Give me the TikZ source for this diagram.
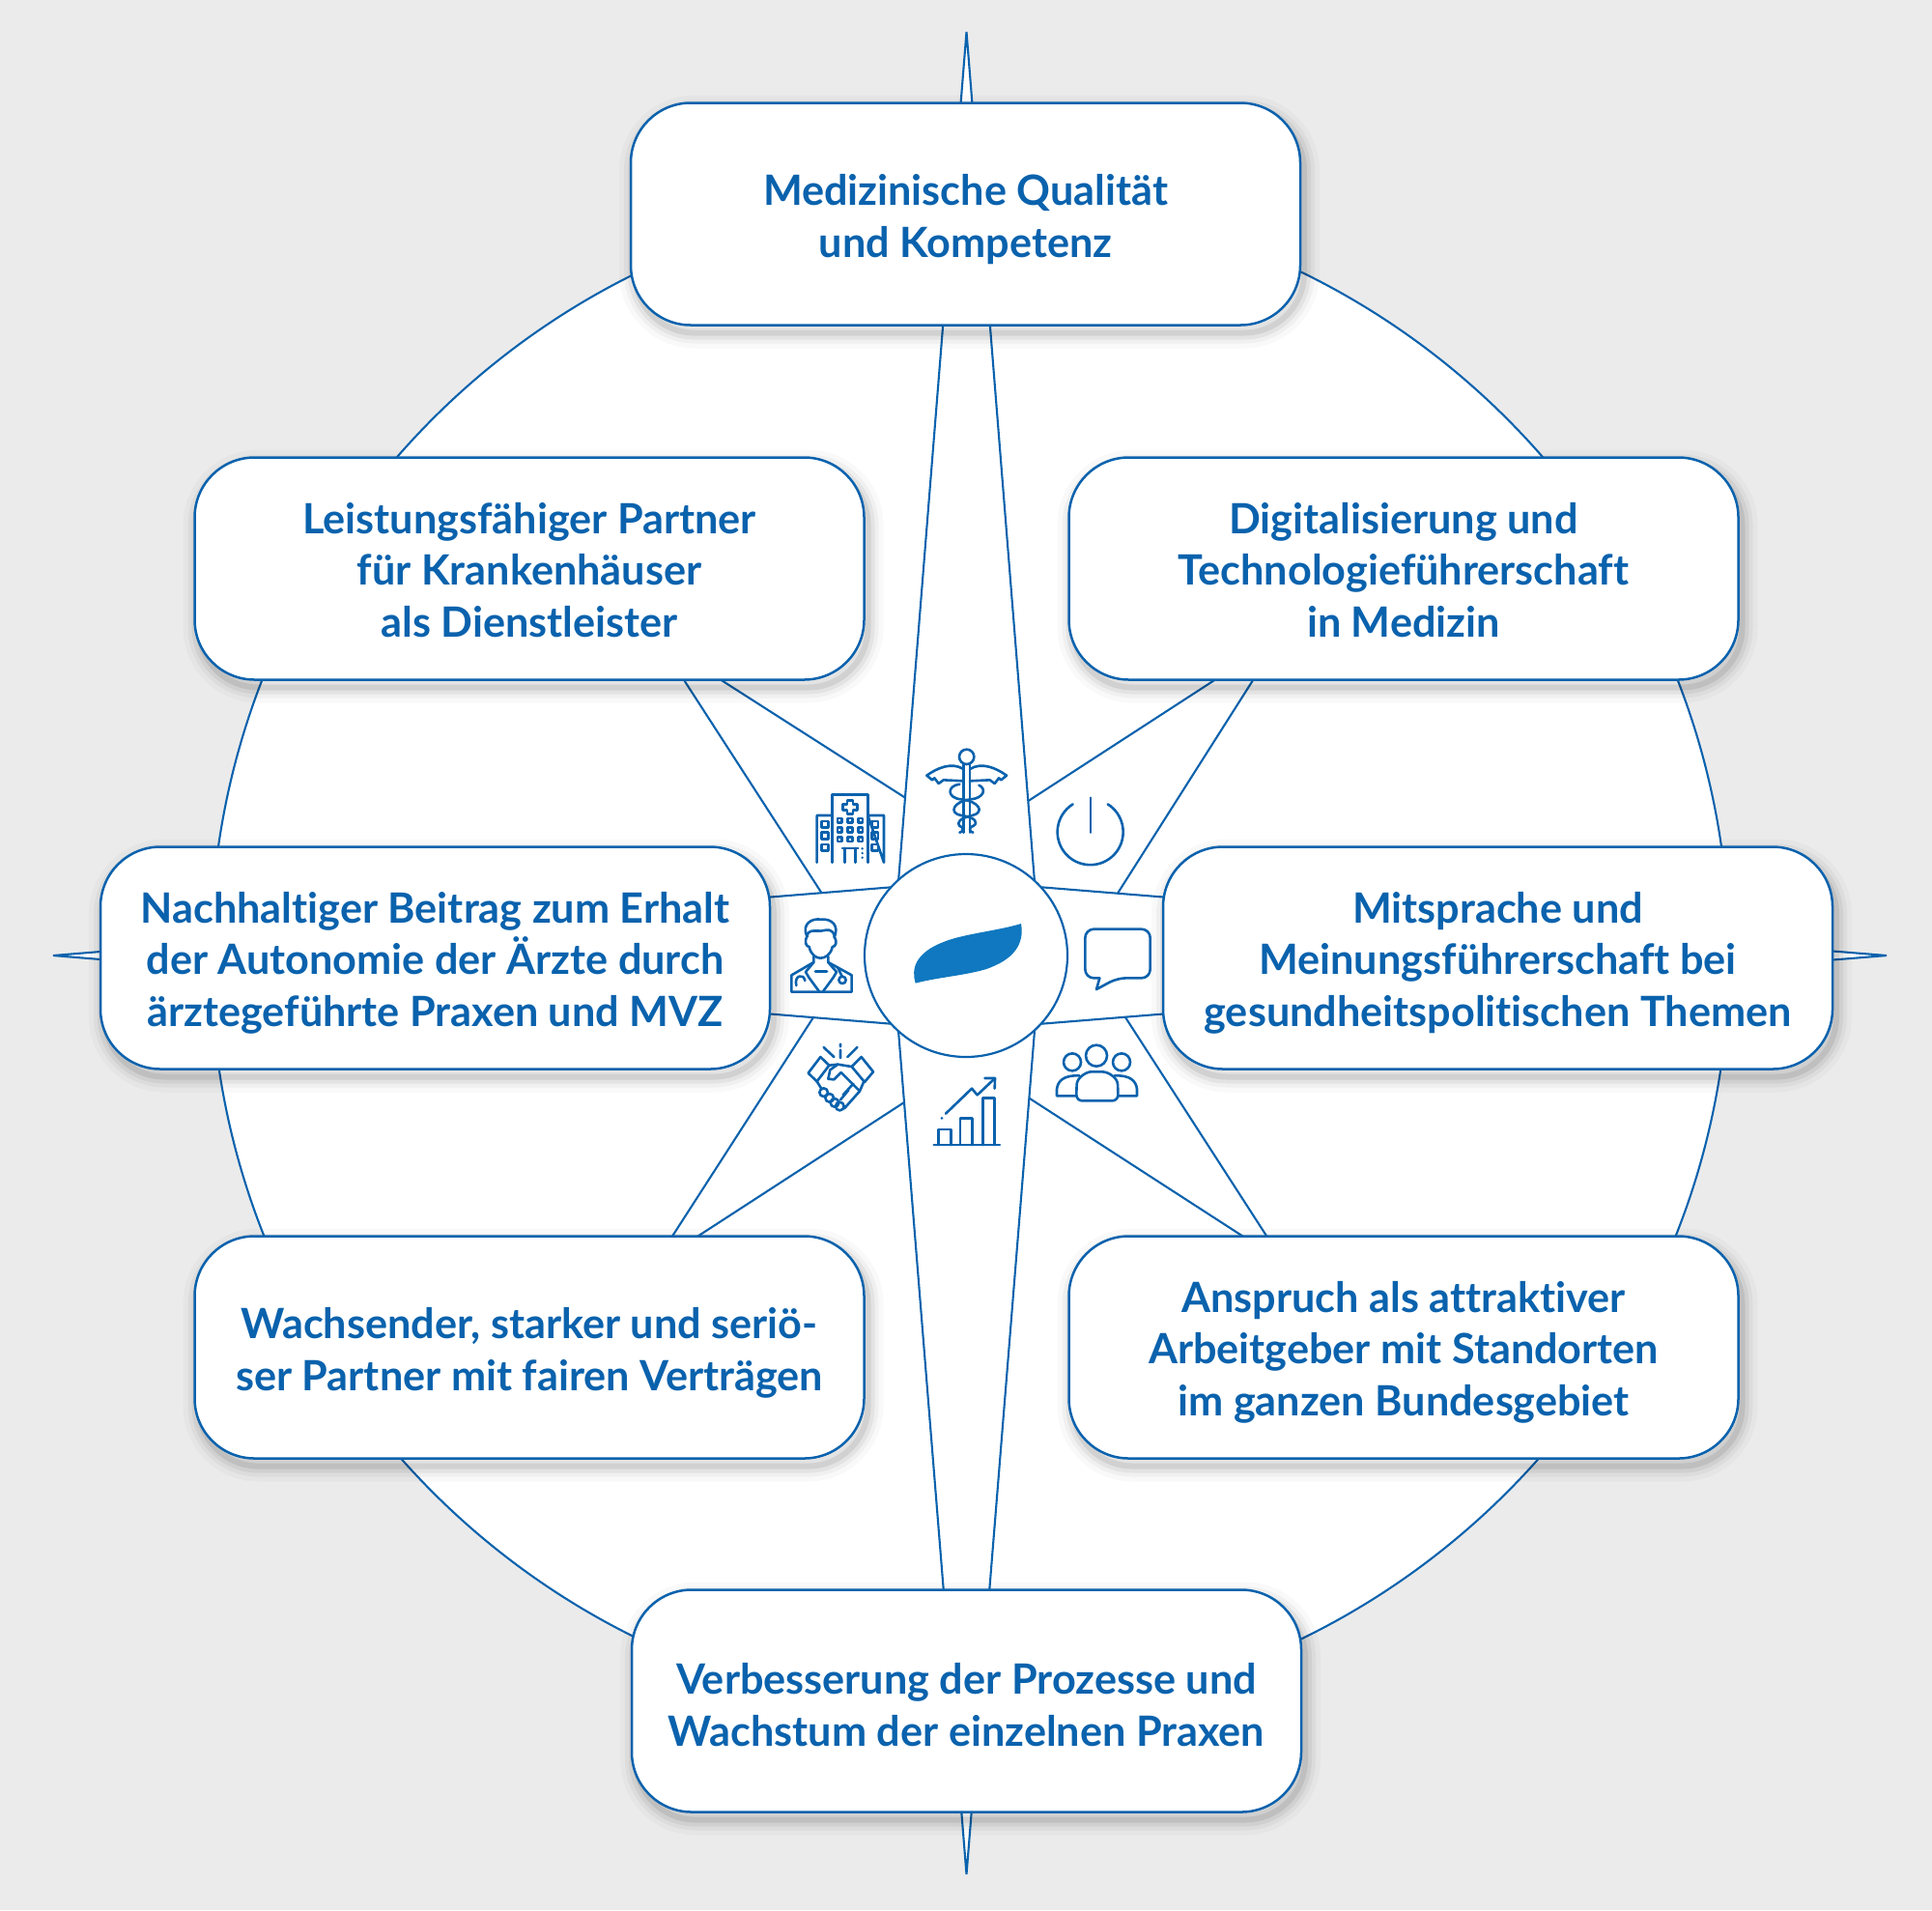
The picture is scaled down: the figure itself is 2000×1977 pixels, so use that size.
\documentclass[tikz,border=0pt]{standalone}
\usepackage{fontspec}
\setmainfont{Lato}[Ligatures=NoCommon]
\usetikzlibrary{calc}

\definecolor{hgrau}{HTML}{EBEBEB}
\definecolor{linie}{HTML}{0A62AD}
\definecolor{logoblau}{HTML}{0F78C0}

\tikzset{
  strahl/.style={draw=linie,fill=white,line width=1.05pt,line join=miter},
  symbol/.style={draw=linie,line width=1.3pt,line join=round,line cap=round},
  kasten/.style={draw=linie,fill=white,line width=1.25pt,rounded corners=31pt,
    minimum width=346.5pt,minimum height=115pt,align=center,text=linie,inner sep=0pt,
    font=\fontsize{21.6}{26.8}\selectfont\bfseries,softschatten,text depth=0pt},
  zweizeilig/.style={kasten,text height=44.9pt},
  dreizeilig/.style={kasten,text height=70.8pt},
  softschatten/.style={
    preaction={draw=black,draw opacity=.025,line width=16pt,transform canvas={shift={(2pt,-4pt)}}},
    preaction={draw=black,draw opacity=.035,line width=11pt,transform canvas={shift={(2pt,-4pt)}}},
    preaction={draw=black,draw opacity=.05,line width=7pt,transform canvas={shift={(2pt,-4pt)}}},
    preaction={draw=black,draw opacity=.08,line width=3pt,transform canvas={shift={(2pt,-4pt)}}}
  }
}

\begin{document}
\begin{tikzpicture}[x=0.5pt,y=-0.5pt]
    % Hintergrund
    \fill[hgrau] (0,0) rectangle (2000,1977);
    \useasboundingbox (0,0) rectangle (2000,1977);
    \coordinate (mitte) at (1000,989);

    % Grosser Kreis
    \draw[strahl] (1004,989) circle (786);

    % Diagonale Strahlen
    \coordinate (tipNW) at (681,662);
    \coordinate (tipNO) at (1325,660);
    \coordinate (tipSW) at (677,1309);
    \coordinate (tipSO) at (1329,1307);
    \draw[strahl] (tipNW) -- ($(tipNW)!1.05!(936,825)$) -- (mitte) -- ($(tipNW)!1.05!(851,925)$) -- cycle;
    \draw[strahl] (tipNO) -- ($(tipNO)!1.05!(1066,828)$) -- (mitte) -- ($(tipNO)!1.05!(1158,923)$) -- cycle;
    \draw[strahl] (tipSW) -- ($(tipSW)!1.05!(936,1141)$) -- (mitte) -- ($(tipSW)!1.05!(842,1053)$) -- cycle;
    \draw[strahl] (tipSO) -- ($(tipSO)!1.05!(1066,1137)$) -- (mitte) -- ($(tipSO)!1.05!(1165,1053)$) -- cycle;

    % Hauptstrahlen
    \coordinate (tipN) at (1000.5,33);
    \coordinate (tipS) at (1000.5,1940);
    \coordinate (tipW) at (55,989);
    \coordinate (tipO) at (1953,989);
    \draw[strahl] (tipN) -- (923,1000) -- (1078,1000) -- cycle;
    \draw[strahl] (tipS) -- (923,980) -- (1078,980) -- cycle;
    \draw[strahl] (tipW) -- (1000,912) -- (1000,1066) -- cycle;
    \draw[strahl] (tipO) -- (1000,912) -- (1000,1066) -- cycle;

    % Kreis in der Mitte
    \node[circle,draw=linie,fill=white,line width=1.1pt,minimum size=105pt,inner sep=0pt] (kern) at (mitte) {};

    % Kaesten
    \node[zweizeilig] (qualitaet) at (999.5,221.5) {Medizinische Qualität\\und Kompetenz};
    \node[dreizeilig] (partner) at (548,588.5) {Leistungsfähiger Partner\\für Krankenhäuser\\als Dienstleister};
    \node[dreizeilig] (digital) at (1453,588.5) {Digitalisierung und\\Technologieführerschaft\\in Medizin};
    \node[dreizeilig] (autonomie) at (450.5,991.5) {Nachhaltiger Beitrag zum Erhalt\\der Autonomie der Ärzte durch\\ärztegeführte Praxen und MVZ};
    \node[dreizeilig] (mitsprache) at (1550.5,991.5) {Mitsprache und\\Meinungsführerschaft bei\\gesundheitspolitischen Themen};
    \node[zweizeilig] (vertraege) at (548,1394.5) {Wachsender, starker und seriö-\\ser Partner mit fairen Verträgen};
    \node[dreizeilig] (arbeitgeber) at (1453,1394.5) {Anspruch als attraktiver\\Arbeitgeber mit Standorten\\im ganzen Bundesgebiet};
    \node[zweizeilig,text height=46.5pt] (prozesse) at (1000.5,1760.5) {Verbesserung der Prozesse und\\Wachstum der einzelnen Praxen};

    % Symbole, Koordinaten im Ausschnitt
    \begin{scope}[shift={(780,720)},x=0.16667pt,y=-0.16667pt]
      % Logo
      \fill[logoblau] (503,893) .. controls (490,850) and (500,800) .. (590,765)
        .. controls (650,740) and (760,730) .. (831,708)
        .. controls (842,770) and (810,820) .. (720,850)
        .. controls (650,870) and (570,875) .. (503,893) -- cycle;

      % Krankenhaus
      \draw[symbol] (197,518) -- (197,372) -- (245,372) (355,372) -- (405,372) -- (405,518) -- cycle;
      \draw[symbol] (245,518) -- (245,308) -- (355,308) -- (355,518);
      \draw[symbol] (291,326) -- (309,326) -- (309,338) -- (322,338) -- (322,356) -- (309,356) -- (309,368)
        -- (291,368) -- (291,356) -- (278,356) -- (278,338) -- (291,338) -- cycle;
      \foreach \yy in {400,435,472} {
        \draw[symbol] (212,\yy-10) rectangle (232,\yy+10);
        \draw[symbol] (367,\yy-10) rectangle (387,\yy+10);
      }
      \foreach \xx in {268,300,332} \foreach \yy in {388,417,446}
        \draw[symbol] (\xx-7,\yy-7) rectangle (\xx+7,\yy+7);
      \draw[symbol] (276,474) -- (325,474) (283,474) -- (283,518) (317,474) -- (317,518);
      \foreach \yy in {475,489,503} \fill[linie] (338,\yy) circle (4);

      % Aeskulapstab
      \draw[symbol] (662,190) circle (23);
      \draw[symbol] (652,214) -- (652,425) (672,214) -- (672,425);
      \draw[symbol] (652,228) .. controls (615,205) and (570,225) .. (538,248) -- (555,262) -- (562,256) -- (575,273) -- (590,262) -- (652,265);
      \draw[symbol] (672,228) .. controls (709,205) and (754,225) .. (786,248) -- (769,262) -- (762,256) -- (749,273) -- (734,262) -- (672,265);
      \draw[symbol] (640,275) .. controls (600,280) and (600,318) .. (645,322) .. controls (700,328) and (720,362) .. (680,372)
        .. controls (640,380) and (630,395) .. (640,405);
      \draw[symbol] (700,278) .. controls (725,290) and (715,318) .. (675,322) .. controls (620,328) and (605,365) .. (645,372)
        .. controls (690,378) and (700,395) .. (682,405);
      \draw[symbol] (640,405) arc[start angle=-90,end angle=90,radius=10];
      \draw[symbol] (682,405) arc[start angle=-90,end angle=-270,radius=10];

      % Einschaltknopf
      \draw[symbol] (1100,337) arc[start angle=-58,end angle=238,radius=102];
      \draw[symbol] (1047,317) -- (1047,425);

      % Arzt
      \draw[symbol] (165,745) .. controls (150,710) and (180,690) .. (210,695) .. controls (245,692) and (265,715) .. (252,748)
        .. controls (250,735) and (240,725) .. (225,728) .. controls (205,735) and (180,725) .. (172,735) -- cycle;
      \draw[symbol] (168,745) .. controls (155,765) and (165,780) .. (173,780) .. controls (178,805) and (195,815) .. (208,815)
        .. controls (222,815) and (240,805) .. (245,780) .. controls (255,780) and (262,765) .. (250,748);
      \draw[symbol] (187,810) -- (187,828) -- (118,868) -- (118,920) -- (305,920) -- (305,868) -- (232,828) -- (232,810);
      \draw[symbol] (187,828) -- (162,858) -- (172,875) -- (205,920) (232,828) -- (258,858) -- (248,875) -- (215,920);
      \draw[symbol] (192,857) -- (228,857);
      \draw[symbol] (133,900) .. controls (125,870) and (155,860) .. (160,885);
      \draw[symbol] (262,845) -- (275,872);
      \draw[symbol] (276,883) circle (11);

      % Sprechblase
      \draw[symbol,rounded corners=4.5pt] (1030,725) -- (1232,725) -- (1232,877) -- (1130,877) [sharp corners] -- (1065,912) -- (1075,877)
        [rounded corners=4.5pt] -- (1030,877) -- cycle;

      % Haendedruck
      \draw[symbol] (270,1082) -- (270,1090) (270,1100) -- (270,1125) (218,1092) -- (250,1122) (322,1092) -- (292,1122);
      \draw[symbol] (170,1172) -- (208,1122) -- (235,1148) -- (197,1198) -- cycle;
      \draw[symbol] (335,1122) -- (372,1168) -- (345,1200) -- (305,1152) -- cycle;
      \draw[symbol] (305,1152) -- (262,1145) -- (238,1162) -- (232,1190) -- (250,1192) -- (272,1170) -- (330,1228) -- (342,1200);
      \draw[symbol] (235,1148) -- (262,1145);
      \draw[symbol] (197,1198) -- (212,1222);
      \draw[symbol] (330,1228) -- (282,1282);
      \draw[symbol] (310,1205) -- (278,1240) (295,1225) -- (270,1255);
      \foreach \xx/\yy in {218/1232,236/1249,252/1264,268/1275}
        \draw[symbol] (\xx,\yy) circle (13);

      % Diagramm
      \draw[symbol] (560,1395) -- (765,1395);
      \draw[symbol] (575,1395) -- (575,1347) -- (613,1347) -- (613,1395);
      \draw[symbol] (642,1395) -- (642,1312) -- (680,1312) -- (680,1395);
      \draw[symbol] (712,1395) -- (712,1250) -- (748,1250) -- (748,1395);
      \draw[symbol] (597,1298) -- (678,1220) -- (695,1240) -- (750,1188);
      \draw[symbol] (718,1188) -- (750,1188) -- (749,1220);
      \fill[linie] (585,1312) circle (4.5);

      % Personen
      \draw[symbol] (1065,1118) circle (33);
      \draw[symbol] (990,1138) circle (27);
      \draw[symbol] (1143,1138) circle (27);
      \draw[symbol,rounded corners=3pt] (1003,1258) -- (1003,1225) .. controls (1005,1185) and (1035,1168) .. (1066,1168)
        .. controls (1100,1168) and (1130,1185) .. (1132,1225) -- (1132,1258) -- cycle;
      \draw[symbol] (1003,1243) -- (942,1243) -- (942,1222) .. controls (945,1195) and (965,1178) .. (1012,1180);
      \draw[symbol] (1132,1243) -- (1191,1243) -- (1191,1222) .. controls (1188,1195) and (1168,1178) .. (1121,1180);
    \end{scope}
\end{tikzpicture}
\end{document}
